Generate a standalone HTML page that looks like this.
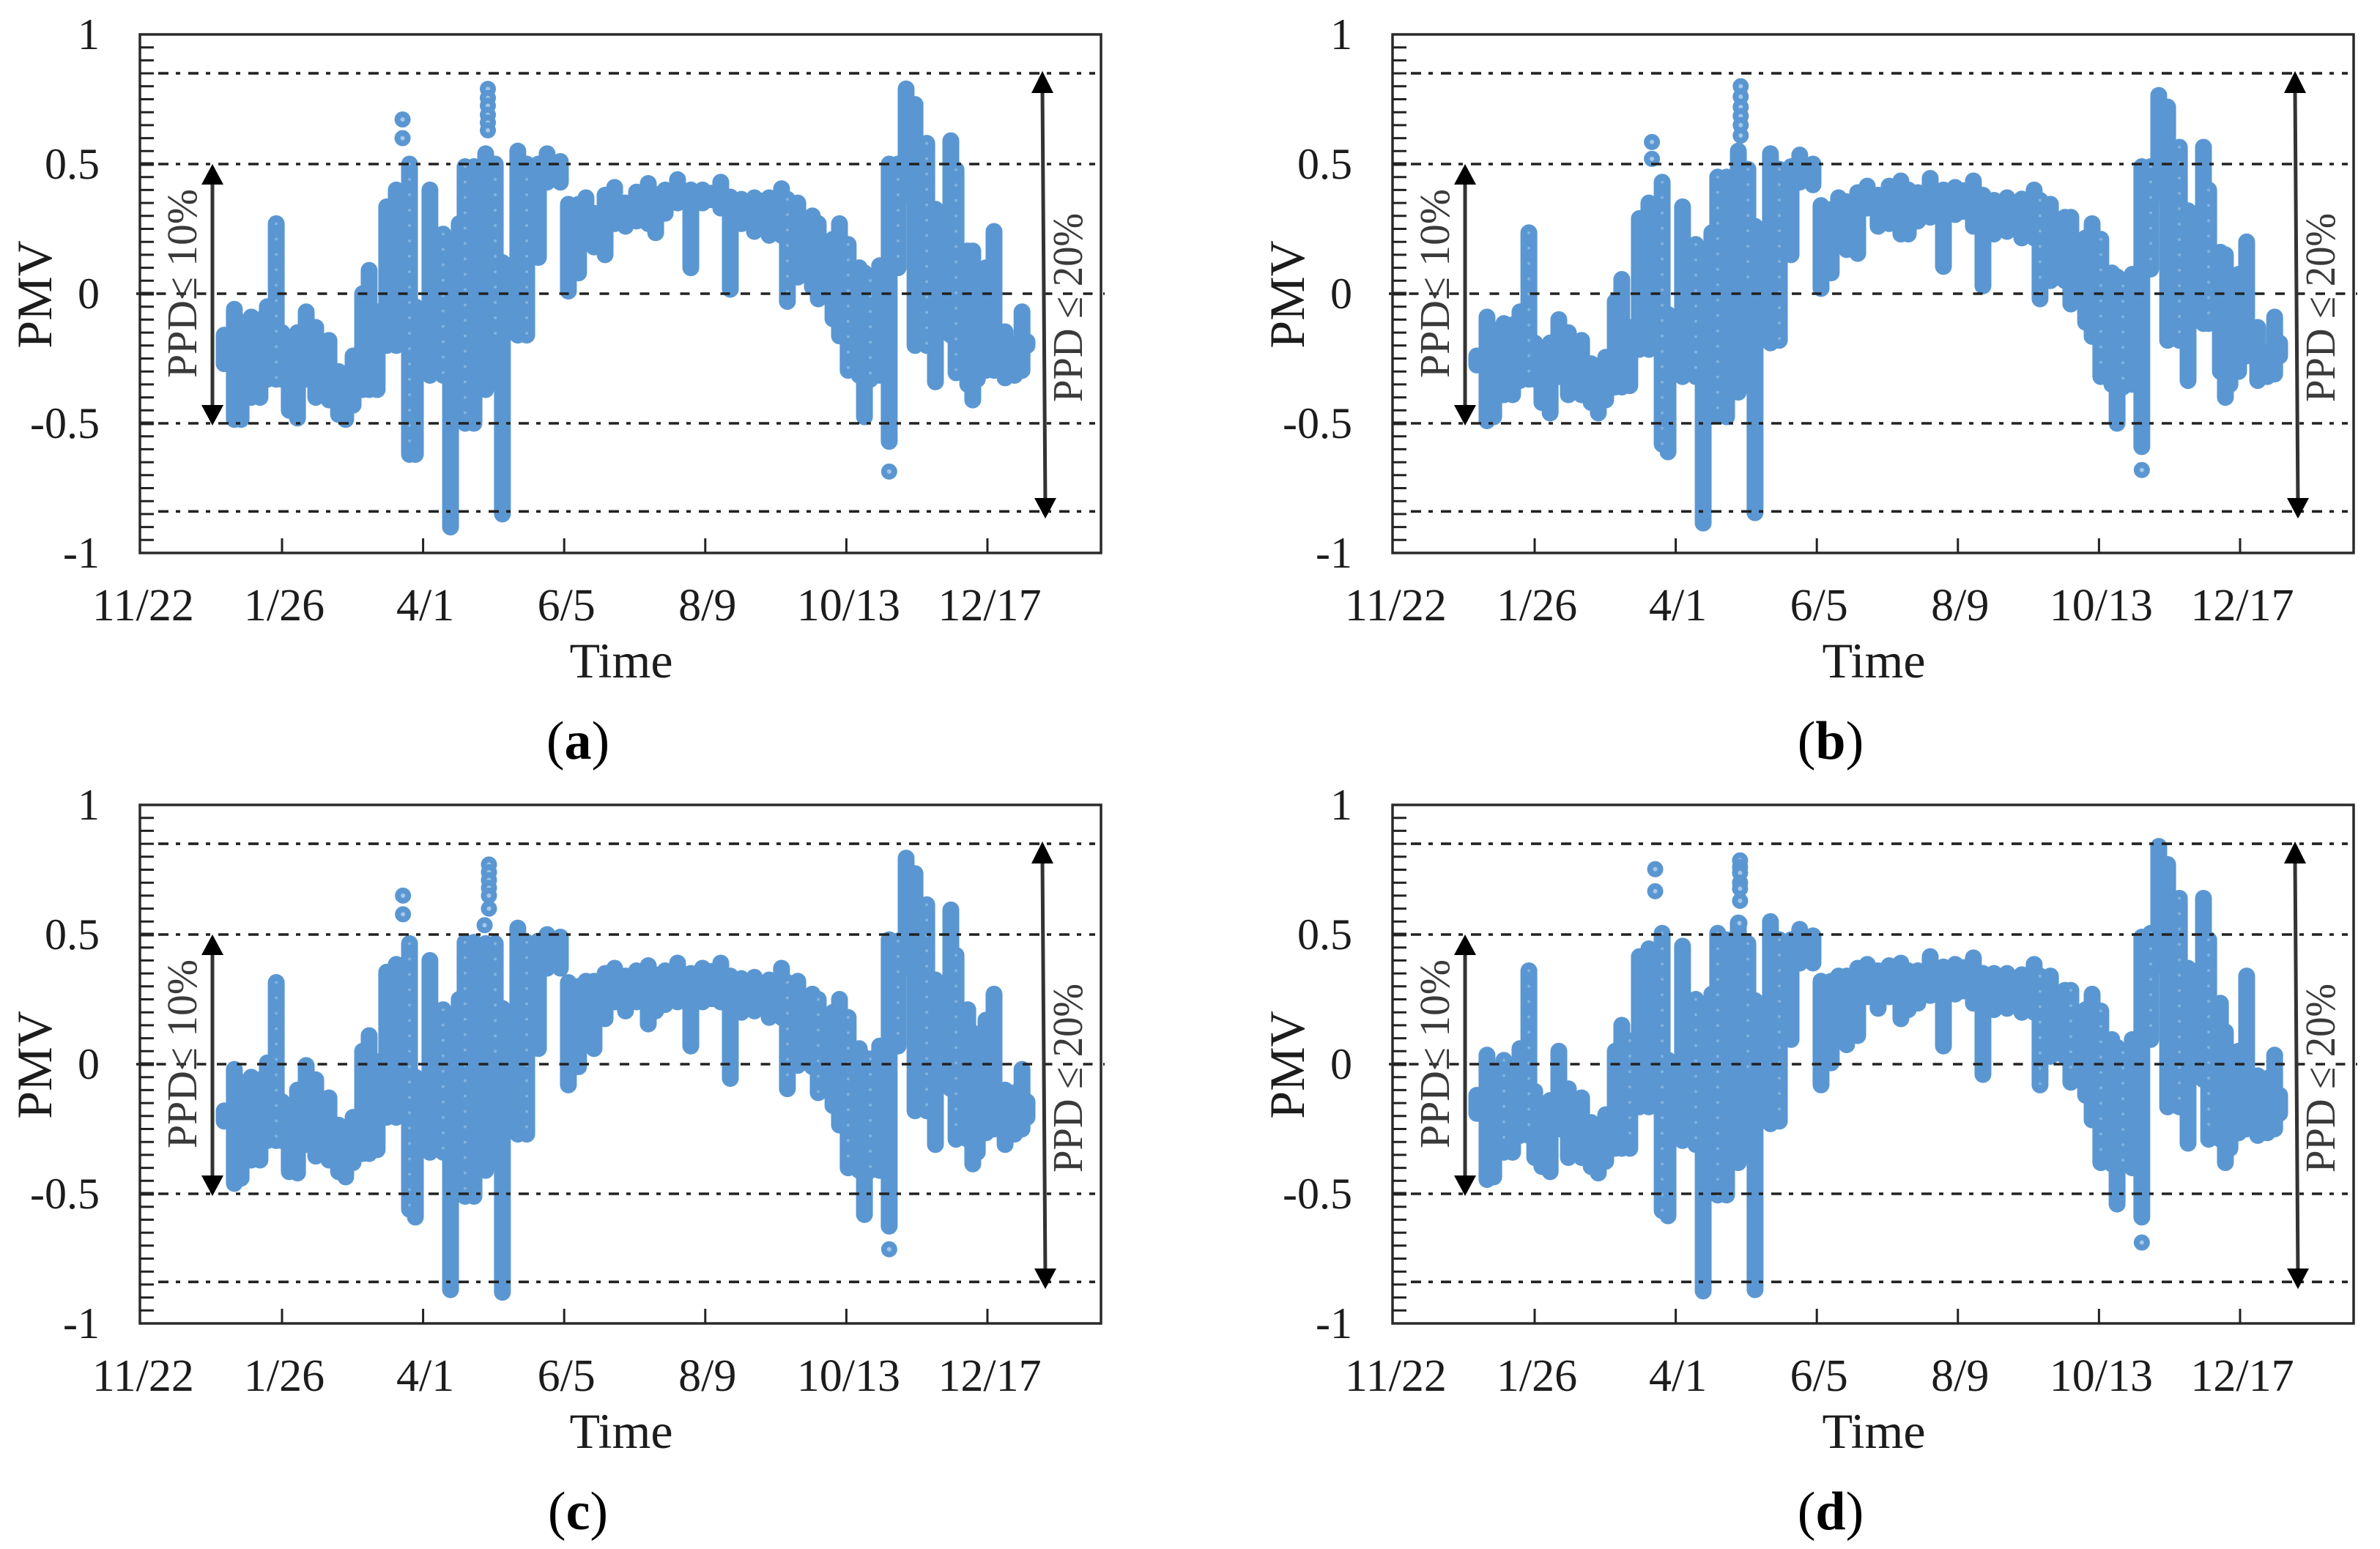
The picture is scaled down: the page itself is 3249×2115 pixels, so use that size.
<!DOCTYPE html>
<html lang="en">
<head>
<meta charset="utf-8">
<title>PMV scatter panels</title>
<style>
html,body{margin:0;padding:0;background:#fff;width:3249px;height:2115px;overflow:hidden}
svg{display:block}
text{font-family:"Liberation Serif",serif;fill:#1c1c1c}
</style>
</head>
<body>
<svg id="chart" xmlns="http://www.w3.org/2000/svg" width="3249" height="2115" viewBox="0 0 3249 2115"></svg>
<script>
// Shared category axis: days since 11/22 for each measured column of readings
const columnDays = [38,42.7,45.8,50.5,54.5,57.9,62,64.7,68,71.8,
75.8,80.2,86.3,90.7,94,97.4,101.8,104.8,108.5,112.9,
117.3,123.4,126.1,132.8,138.9,142.3,146.3,149,153.1,158.5,
162.9,166.2,173.3,177.4,182.8,186.8,192.9,196.6,201.3,204.7,
208.4,213.5,217.9,222.9,228,233.4,236.8,241.2,246.9,253,
258.4,266.8,271.2,276.3,282.3,289.1,294.8,297.5,302.3,309,
311.7,318.5,321.5,325.5,330.6,333,335.7,340,344.4,348.5,
352.2,356.3,361.7,365.7,372.8,375.2,380.6,382.9,385,389,
392.7,397.8,402.2,405.6,407.9];

const highA = [-.16,-.06,-.11,-.09,-.10,-.05,.27,-.15,-.27,-.15,
-.07,-.13,-.18,-.30,-.31,-.24,0,.09,-.07,.335,
.40,.50,-.05,.40,.23,.155,.27,.49,.49,.54,
.50,.12,.55,.50,.50,.54,.51,.345,.345,.37,
.31,.38,.41,.35,.392,.425,.383,.40,.44,.40,
.40,.43,.373,.364,.37,.37,.405,.364,.35,.30,
.27,.21,.27,.19,.10,.08,.05,.108,.50,.50,
.79,.73,.58,.326,.59,.478,.165,.165,-.147,.10,
.24,-.147,-.195,-.07,-.185];
const lowA = [-.27,-.485,-.485,-.40,-.40,-.33,-.33,-.33,-.45,-.48,
-.33,-.40,-.41,-.466,-.485,-.43,-.37,-.37,-.37,-.20,
-.20,-.62,-.62,-.315,-.315,-.90,-.485,-.50,-.50,-.37,
-.20,-.85,-.16,-.16,.14,.43,.43,.01,.08,.22,
.18,.15,.27,.26,.28,.27,.235,.31,.35,.10,
.35,.33,.017,.27,.24,.225,.225,-.03,.064,.026,
-.02,-.097,-.163,-.296,-.315,-.475,-.33,-.315,-.57,.10,
.386,-.20,-.20,-.34,-.16,-.305,-.35,-.41,-.33,-.296,
-.296,-.325,-.315,-.296,-.20];
const outlierDaysA = [120.2,120.2,159.5,159.5,159.5,159.5,159.5,159.5,344.4];
const outlierValuesA = [.672,.60,.79,.755,.725,.69,.66,.63,-.686];

const highB = [-.24,-.09,-.14,-.115,-.12,-.07,.235,-.19,-.27,-.19,
-.10,-.15,-.18,-.27,-.30,-.245,-.03,.055,-.13,.29,
.35,.43,-.08,.335,.19,.10,.235,.45,.45,.55,
.48,.26,.54,.48,.49,.535,.50,.34,.325,.37,
.355,.39,.415,.38,.415,.435,.40,.39,.445,.40,
.41,.435,.38,.36,.37,.365,.40,.36,.345,.295,
.295,.215,.27,.21,.08,.065,.03,.075,.49,.49,
.765,.72,.565,.32,.565,.40,.16,.15,-.165,.075,
.20,-.13,-.225,-.09,-.19];
const lowB = [-.275,-.49,-.475,-.39,-.39,-.335,-.33,-.33,-.42,-.46,
-.32,-.39,-.39,-.42,-.46,-.41,-.36,-.36,-.355,-.215,
-.215,-.58,-.61,-.32,-.32,-.885,-.335,-.47,-.475,-.38,
.05,-.845,-.19,-.18,.15,.43,.42,.02,.08,.185,
.17,.155,.33,.26,.27,.23,.23,.28,.295,.105,
.305,.26,.03,.23,.24,.215,.215,-.02,.05,.05,
-.04,-.11,-.165,-.32,-.35,-.50,-.36,-.35,-.59,.095,
.39,-.18,-.18,-.335,-.115,-.115,-.30,-.40,-.35,-.30,
-.24,-.335,-.32,-.31,-.24];
const outlierDaysB = [118.7,118.7,159.6,159.6,159.6,159.6,159.6,159.6,344.4];
const outlierValuesB = [.585,.52,.80,.76,.72,.685,.65,.61,-.68];

const highC = [-.18,-.02,-.07,-.05,-.06,.005,.315,-.145,-.235,-.10,
-.005,-.06,-.13,-.235,-.27,-.205,.05,.11,.01,.355,
.385,.465,-.05,.40,.21,.17,.25,.47,.47,.465,
.465,.215,.525,.47,.475,.50,.49,.315,.30,.32,
.32,.35,.37,.34,.36,.38,.345,.36,.39,.35,
.37,.39,.34,.33,.335,.325,.37,.315,.32,.27,
.25,.20,.25,.18,.06,.025,.02,.07,.48,.475,
.795,.735,.615,.325,.595,.42,.21,.12,-.10,.17,
.27,-.10,-.11,-.02,-.145];
const lowC = [-.22,-.46,-.44,-.37,-.37,-.295,-.295,-.295,-.415,-.42,
-.31,-.355,-.37,-.415,-.435,-.38,-.345,-.345,-.33,-.205,
-.205,-.56,-.59,-.34,-.34,-.87,-.385,-.51,-.51,-.41,
.01,-.88,-.27,-.27,.06,.37,.37,-.08,-.01,.205,
.06,.175,.24,.205,.24,.155,.205,.23,.24,.07,
.24,.24,-.055,.20,.205,.18,.18,-.095,-.005,-.01,
-.11,-.16,-.235,-.40,-.41,-.58,-.41,-.41,-.625,.07,
.37,-.18,-.18,-.31,-.095,-.29,-.29,-.385,-.34,-.265,
-.25,-.31,-.27,-.25,-.205];
const outlierDaysC = [120.4,120.4,160,160,160,160,160,160,158,344.4];
const outlierValuesC = [.65,.578,.77,.74,.71,.68,.65,.60,.536,-.714];

const highD = [-.12,.035,-.03,.015,-.01,.06,.36,-.105,-.215,-.14,
.05,-.095,-.13,-.225,-.265,-.195,.05,.15,.09,.415,
.445,.505,.016,.455,.25,.21,.27,.505,.48,.545,
.465,.245,.55,.48,.48,.52,.495,.32,.32,.34,
.34,.37,.385,.36,.38,.39,.36,.36,.415,.375,
.385,.41,.35,.35,.35,.345,.385,.34,.34,.285,
.285,.21,.27,.205,.095,.065,.045,.095,.49,.505,
.84,.77,.64,.37,.64,.48,.235,.125,-.07,.05,
.34,-.045,-.055,.035,-.12];
const lowD = [-.19,-.445,-.435,-.34,-.34,-.275,-.275,-.36,-.395,-.415,
-.25,-.36,-.36,-.395,-.42,-.375,-.325,-.325,-.325,-.165,
-.165,-.565,-.585,-.295,-.31,-.875,-.365,-.505,-.505,-.38,
-.01,-.87,-.23,-.22,.095,.39,.39,-.08,.005,.185,
.075,.11,.26,.215,.26,.175,.21,.235,.265,.07,
.27,.235,-.04,.21,.215,.20,.20,-.08,.03,.03,
-.07,-.12,-.215,-.38,-.385,-.54,-.385,-.40,-.59,.095,
.38,-.165,-.165,-.305,-.06,-.29,-.29,-.38,-.325,-.265,
-.25,-.275,-.265,-.25,-.19];
const outlierDaysD = [120.2,120.2,159.3,159.3,159.3,159.3,159.3,159.3,159,344.4];
const outlierValuesD = [.752,.667,.786,.76,.738,.70,.677,.63,.544,-.688];

// Axis ticks and labels
const xTickDays = [0,65,130,195,260,325,390];
const xTickLabels = ['11/22','1/26','4/1','6/5','8/9','10/13','12/17'];
const yTickValues = [1,.5,0,-.5,-1];
const yTickLabels = ['1','0.5','0','-0.5','-1'];
const dashDotLevels = [.85,.5,-.5,-.84];

const NS = 'http://www.w3.org/2000/svg';
const root = document.getElementById('chart');

function make(tag, parent, attrs, textValue) {
  const el = document.createElementNS(NS, tag);
  for (const k in attrs) el.setAttribute(k, attrs[k]);
  if (textValue !== undefined) el.textContent = textValue;
  parent.appendChild(el);
  return el;
}

function drawPanel(letter, dx, dy, highs, lows, outDays, outValues) {
  const L = 191, R = 1503, T = 47, B = 755;
  const xOf = d => 193.4 + d * 2.963;
  const yOf = v => 401 - v * 354;

  const g = make('g', root, {transform: 'translate(' + dx + ' ' + dy + ')'});
  
  

  const plot = make('g', g, {});
  
  

  // Solid fill between neighbouring columns, limited to the PMV span they share
  columnDays.forEach((day, i) => {
    if (i === columnDays.length - 1) return;
    const sharedHigh = Math.min(highs[i], highs[i + 1]);
    const sharedLow = Math.max(lows[i], lows[i + 1]);
    if (sharedHigh <= sharedLow) return;
    const fill = make('rect', plot, {x: xOf(day), width: xOf(columnDays[i + 1]) - xOf(day),
      y: yOf(sharedHigh) - 7, height: yOf(sharedLow) - yOf(sharedHigh) + 14, fill: '#5a97d2'});
    
    
  });

  columnDays.forEach((day, i) => {
    const col = make('line', plot, {x1: xOf(day), x2: xOf(day), y1: yOf(highs[i]), y2: yOf(lows[i]),
      stroke: '#5a97d2', 'stroke-width': 23, 'stroke-linecap': 'round'});
    
    
  });
  columnDays.forEach((day, i) => {
    if (highs[i] - lows[i] > .35 && i % 3 === 0) {
      const dots = make('line', plot, {x1: xOf(day), x2: xOf(day), y1: yOf(highs[i]), y2: yOf(lows[i]),
        stroke: '#a6c8e8', 'stroke-width': 4, 'stroke-linecap': 'round', 'stroke-dasharray': '0 21', opacity: .55});
      
      
    }
  });
  outDays.forEach((day, i) => {
    const pt = make('circle', plot, {cx: xOf(day), cy: yOf(outValues[i]), r: 7,
      fill: '#a6c8e8', stroke: '#5a97d2', 'stroke-width': 8});
    
    
  });

  dashDotLevels.forEach(level => {
    const ln = make('line', g, {x1: L + 25, x2: R - 8, y1: yOf(level), y2: yOf(level),
      stroke: '#222', 'stroke-width': 3.6, 'stroke-dasharray': '14 10 6 11'});
    
    
  });
  const zero = make('line', g, {x1: L - 5, x2: R + 5, y1: yOf(0), y2: yOf(0),
    stroke: '#222', 'stroke-width': 3.6, 'stroke-dasharray': '13 14.5'});
  
  

  const frame = make('rect', g, {x: L, y: T, width: R - L, height: B - T, fill: 'none', stroke: '#2a2a2a', 'stroke-width': 3.5});
  
  

  for (let i = 1; i < 40; i++) {
    const major = i % 10 === 0;
    const tick = make('line', g, {x1: L, x2: L + 19, y1: T + i * (B - T) / 40, y2: T + i * (B - T) / 40,
      stroke: '#222', 'stroke-width': major ? 5 : 3});
    
    
  }

  xTickDays.forEach((day, i) => {
    if (i > 0) {
      const tick = make('line', g, {x1: xOf(day) - 1, x2: xOf(day) - 1, y1: B, y2: B - 20, stroke: '#222', 'stroke-width': 3});
      
      
    }
    const label = make('text', g, {x: xOf(day) + 2, y: 847, 'text-anchor': 'middle', 'font-size': 62}, xTickLabels[i]);
    
    
  });

  yTickValues.forEach((value, i) => {
    const label = make('text', g, {x: 136, y: yOf(value) + 20, 'text-anchor': 'end', 'font-size': 60}, yTickLabels[i]);
    
    
  });

  const xTitle = make('text', g, {x: 848, y: 925, 'text-anchor': 'middle', 'font-size': 68}, 'Time');
  
  

  const yTitle = make('text', g, {transform: 'translate(70 402) rotate(-90)', 'text-anchor': 'middle', 'font-size': 68}, 'PMV');
  
  

  // PPD <= 10 % range arrow
  const arrow10 = make('line', g, {x1: 290, x2: 290, y1: 245, y2: 560, stroke: '#333', 'stroke-width': 5});
  
  
  const head10a = make('polygon', g, {points: '290,224 275,252 305,252', fill: '#000'});
  
  
  const head10b = make('polygon', g, {points: '290,581 275,553 305,553', fill: '#000'});
  
  
  const label10 = make('text', g, {transform: 'translate(268 387) rotate(-90)', 'text-anchor': 'middle', 'font-size': 58, textLength: 258, lengthAdjust: 'spacingAndGlyphs', style: 'fill:#3a3a3a'}, 'PPD≤ 10%');
  
  

  // PPD <= 20 % range arrow
  const arrow20 = make('line', g, {x1: 1423, x2: 1427, y1: 120, y2: 690, stroke: '#333', 'stroke-width': 5});
  
  
  const head20a = make('polygon', g, {points: '1423,97 1408,127 1438,127', fill: '#000'});
  
  
  const head20b = make('polygon', g, {points: '1427,708 1412,680 1442,680', fill: '#000'});
  
  
  const label20 = make('text', g, {transform: 'translate(1477 420) rotate(-90)', 'text-anchor': 'middle', 'font-size': 58, textLength: 258, lengthAdjust: 'spacingAndGlyphs', style: 'fill:#3a3a3a'}, 'PPD ≤ 20%');
  
  

  // Sub-figure caption
  const caption = make('text', g, {x: 789, y: 1036, 'text-anchor': 'middle', 'font-size': 74, style: 'fill:#000'});
  
  
  make('tspan', caption, {}, '(');
  make('tspan', caption, {'font-weight': 'bold'}, letter);
  make('tspan', caption, {}, ')');
}

drawPanel('a', 0, 0, highA, lowA, outlierDaysA, outlierValuesA);
drawPanel('b', 1710, 0, highB, lowB, outlierDaysB, outlierValuesB);
drawPanel('c', 0, 1052, highC, lowC, outlierDaysC, outlierValuesC);
drawPanel('d', 1710, 1052, highD, lowD, outlierDaysD, outlierValuesD);
</script>
</body>
</html>
